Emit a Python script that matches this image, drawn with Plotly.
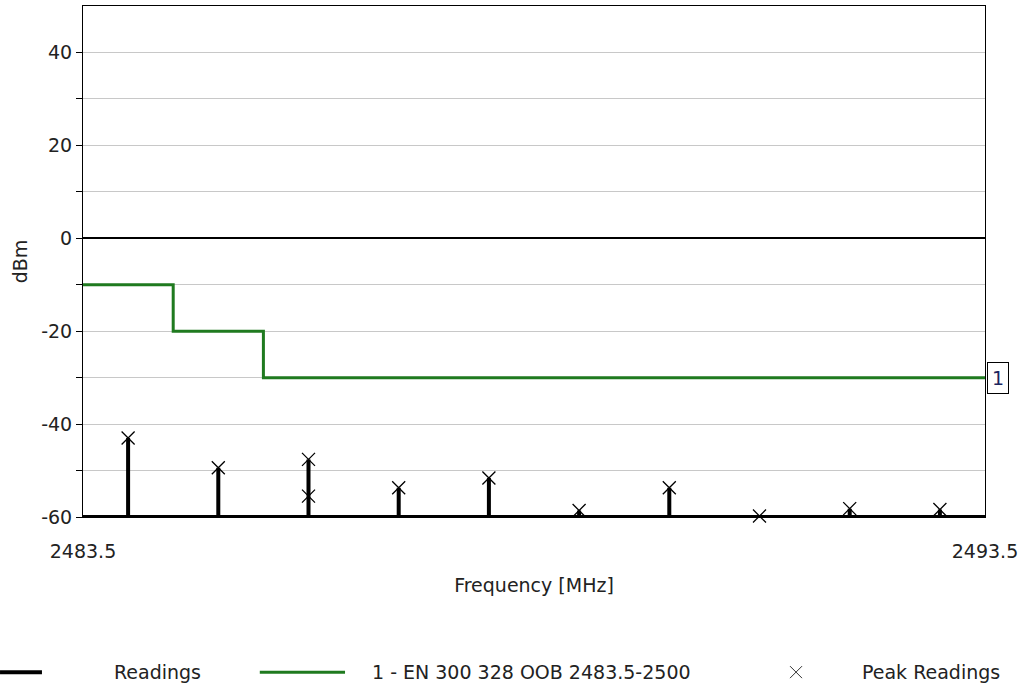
import plotly.graph_objects as go

# Spectrum readings (MHz, dBm)
freqs = [2484.0, 2485.0, 2486.0, 2487.0, 2488.0, 2489.0, 2490.0, 2491.0, 2492.0, 2493.0]
readings = [-43.0, -49.4, -47.6, -53.7, -51.6, -58.6, -53.7, -59.8, -58.2, -58.4]

# Peak markers (2486 MHz carries two peaks)
peak_freqs = [2484.0, 2485.0, 2486.0, 2486.0, 2487.0, 2488.0, 2489.0, 2490.0, 2491.0, 2492.0, 2493.0]
peak_vals = [-43.0, -49.4, -47.6, -55.5, -53.7, -51.6, -58.6, -53.7, -59.8, -58.2, -58.4]

# Limit line EN 300 328 OOB (step edges)
limit_x = [2483.5, 2484.5, 2484.5, 2485.5, 2485.5, 2493.5]
limit_y = [-10, -10, -20, -20, -30, -30]

x_range = [2483.5, 2493.5]
y_range = [-60, 50]
y_tickvals = [-60, -50, -40, -30, -20, -10, 0, 10, 20, 30, 40]
y_ticktext = ["-60", "", "-40", "", "-20", "", "0", "", "20", "", "40"]

FONT = "DejaVu Sans"
FS = 19
GREEN = "#1f7a1f"
BASE = -60

# Readings trace: baseline with a spike up to each reading
rx, ry = [x_range[0]], [BASE]
for f, v in zip(freqs, readings):
    rx += [f, f, f]
    ry += [BASE, v, BASE]
rx.append(x_range[1])
ry.append(BASE)

fig = go.Figure()
fig.add_trace(go.Scatter(x=limit_x, y=limit_y, mode="lines",
                         line=dict(color=GREEN, width=3),
                         name="1 - EN 300 328 OOB 2483.5-2500", showlegend=False))
fig.add_trace(go.Scatter(x=rx, y=ry, mode="lines",
                         line=dict(color="black", width=4),
                         name="Readings", showlegend=False, cliponaxis=False))
fig.add_trace(go.Scatter(x=peak_freqs, y=peak_vals, mode="markers",
                         marker=dict(symbol="x-thin-open", size=13, color="black",
                                     line=dict(color="black", width=1.3)),
                         name="Peak Readings", showlegend=False, cliponaxis=False))

# Limit line label
fig.add_annotation(x=x_range[1], y=limit_y[-1], xref="x", yref="y", text="1",
                   showarrow=False, xanchor="left", yanchor="middle", xshift=2,
                   font=dict(family=FONT, size=FS, color="#1c2560"),
                   bordercolor="black", borderwidth=1, borderpad=4, bgcolor="white")

# Legend row drawn along the bottom
LEG_Y = -0.3036
fig.add_shape(type="line", xref="paper", yref="paper", x0=-0.092, x1=-0.0455,
              y0=LEG_Y, y1=LEG_Y, line=dict(color="black", width=4))
fig.add_annotation(x=0.0322, y=LEG_Y, xref="paper", yref="paper", text="Readings",
                   showarrow=False, xanchor="left", yanchor="middle",
                   font=dict(family=FONT, size=FS, color="#222"))
fig.add_shape(type="line", xref="paper", yref="paper", x0=0.196, x1=0.2905,
              y0=LEG_Y, y1=LEG_Y, line=dict(color=GREEN, width=3))
fig.add_annotation(x=0.318, y=LEG_Y, xref="paper", yref="paper",
                   text="1 - EN 300 328 OOB 2483.5-2500",
                   showarrow=False, xanchor="left", yanchor="middle",
                   font=dict(family=FONT, size=FS, color="#222"))
for sx in (1, -1):
    fig.add_shape(type="line", xref="paper", yref="paper",
                  xsizemode="pixel", ysizemode="pixel",
                  xanchor=0.7905, yanchor=LEG_Y,
                  x0=-6, x1=6, y0=-6 * sx, y1=6 * sx,
                  line=dict(color="#333", width=1))
fig.add_annotation(x=0.861, y=LEG_Y, xref="paper", yref="paper", text="Peak Readings",
                   showarrow=False, xanchor="left", yanchor="middle",
                   font=dict(family=FONT, size=FS, color="#222"))

fig.update_layout(
    width=1021, height=687,
    margin=dict(l=83, r=36, t=6, b=170),
    plot_bgcolor="white", paper_bgcolor="white",
    font=dict(family=FONT, size=FS, color="#222"),
    showlegend=False,
)
fig.update_xaxes(
    range=x_range, tickvals=x_range, ticktext=["2483.5", "2493.5"],
    ticks="outside", ticklen=17, tickcolor="rgba(0,0,0,0)",
    showgrid=False, zeroline=False, automargin=False,
    showline=True, linecolor="black", linewidth=1, mirror=True,
    title=dict(text="Frequency [MHz]", standoff=17, font=dict(size=FS)),
)
fig.update_yaxes(
    range=y_range, tickvals=y_tickvals, ticktext=y_ticktext,
    ticks="outside", ticklen=6, tickcolor="black",
    showgrid=True, gridcolor="#c8c8c8", gridwidth=1, automargin=False,
    zeroline=True, zerolinecolor="black", zerolinewidth=1.5,
    showline=True, linecolor="black", linewidth=1, mirror=True,
    title=dict(text="dBm", standoff=8, font=dict(size=FS)),
)

fig.write_html("out.html")
